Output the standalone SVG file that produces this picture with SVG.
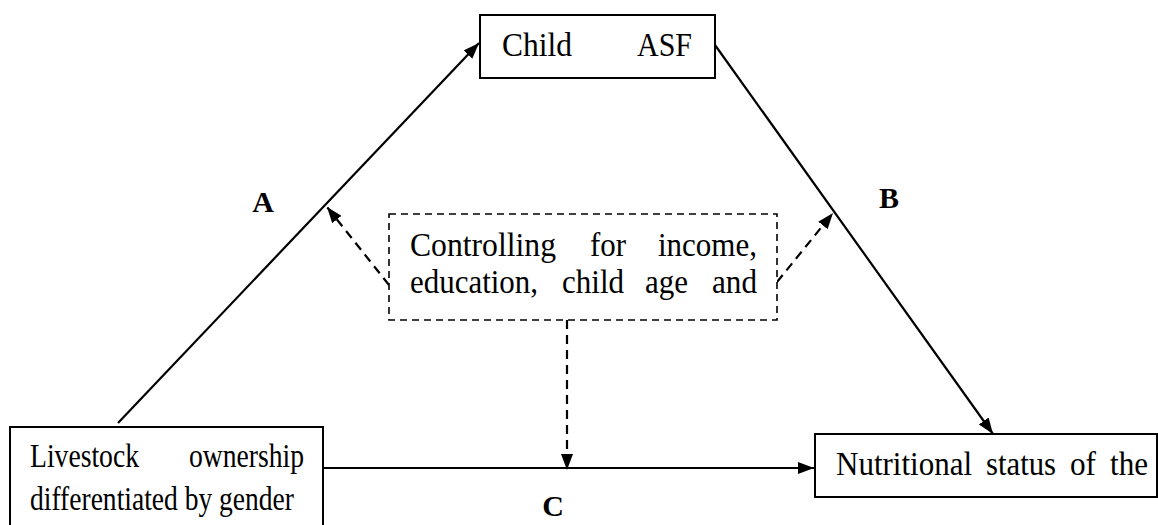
<svg xmlns="http://www.w3.org/2000/svg" width="1158" height="525" viewBox="0 0 1158 525">
<style>
.box{fill:#fff;stroke:#000;stroke-width:2}
.dbox{fill:#fff;stroke:#000;stroke-width:1.6;stroke-dasharray:7 5}
.t{font-family:"Liberation Serif","Times New Roman",serif;font-size:33px;fill:#000}
.lbl{font-family:"Liberation Serif","Times New Roman",serif;font-size:30px;font-weight:bold;fill:#000}
.ln{fill:none;stroke:#000;stroke-width:2.2}
.dl{fill:none;stroke:#000;stroke-width:2.2;stroke-dasharray:9 6}
</style>
<defs>
<marker id="ah" viewBox="0 0 16 12" refX="16" refY="6" markerWidth="16" markerHeight="12" markerUnits="userSpaceOnUse" orient="auto">
<path d="M0,0 L16,6 L0,12 z" fill="#000"/>
</marker>
</defs>
<rect width="1158" height="525" fill="#fff"/>
<g id="connectors">
<line class="ln" x1="118" y1="423" x2="479" y2="43" marker-end="url(#ah)"/>
<line class="ln" x1="715" y1="45" x2="993" y2="434" marker-end="url(#ah)"/>
<line class="ln" x1="323" y1="468" x2="814" y2="468" marker-end="url(#ah)"/>
<line class="dl" x1="567" y1="320" x2="567" y2="470" marker-end="url(#ah)"/>
<line class="dl" x1="389" y1="285" x2="327" y2="207" marker-end="url(#ah)"/>
<line class="dl" x1="777" y1="282" x2="833" y2="213" marker-end="url(#ah)"/>
</g>
<g id="node-child-asf">
<rect class="box" x="480" y="15" width="235" height="63"/>
<text class="t" x="502" y="56" textLength="70" lengthAdjust="spacingAndGlyphs">Child</text>
<text class="t" x="637" y="56" textLength="55" lengthAdjust="spacingAndGlyphs">ASF</text>
</g>
<g id="node-controls">
<rect class="dbox" x="389" y="214" width="388" height="106"/>
<text class="t" x="410" y="256" textLength="146" lengthAdjust="spacingAndGlyphs">Controlling</text>
<text class="t" x="590" y="256" textLength="36" lengthAdjust="spacingAndGlyphs">for</text>
<text class="t" x="658" y="256" textLength="99" lengthAdjust="spacingAndGlyphs">income,</text>
<text class="t" x="410" y="293" textLength="128" lengthAdjust="spacingAndGlyphs">education,</text>
<text class="t" x="562" y="293" textLength="62" lengthAdjust="spacingAndGlyphs">child</text>
<text class="t" x="645" y="293" textLength="43" lengthAdjust="spacingAndGlyphs">age</text>
<text class="t" x="712" y="293" textLength="45" lengthAdjust="spacingAndGlyphs">and</text>
</g>
<g id="node-livestock">
<rect class="box" x="10" y="427" width="313" height="120"/>
<text class="t" x="30" y="467" textLength="109" lengthAdjust="spacingAndGlyphs">Livestock</text>
<text class="t" x="189" y="467" textLength="115" lengthAdjust="spacingAndGlyphs">ownership</text>
<text class="t" x="30" y="510" textLength="264" lengthAdjust="spacingAndGlyphs">differentiated by gender</text>
</g>
<g id="node-nutrition">
<rect class="box" x="815" y="434" width="342" height="63"/>
<text class="t" x="836" y="475" textLength="136" lengthAdjust="spacingAndGlyphs">Nutritional</text>
<text class="t" x="986" y="475" textLength="70" lengthAdjust="spacingAndGlyphs">status</text>
<text class="t" x="1070" y="475" textLength="26" lengthAdjust="spacingAndGlyphs">of</text>
<text class="t" x="1110" y="475" textLength="38" lengthAdjust="spacingAndGlyphs">the</text>
</g>
<g id="labels">
<text class="lbl" x="263" y="212" text-anchor="middle">A</text>
<text class="lbl" x="889" y="208" text-anchor="middle">B</text>
<text class="lbl" x="553" y="516" text-anchor="middle">C</text>
</g>
</svg>
